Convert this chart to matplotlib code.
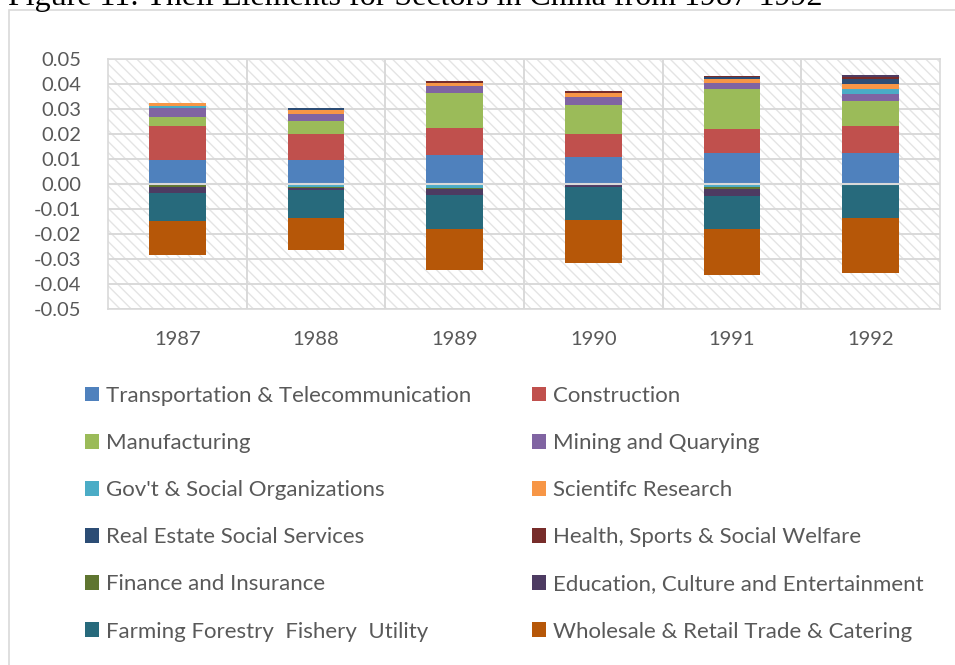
import numpy as np
import matplotlib.pyplot as plt
from matplotlib.patches import Rectangle, Patch

# data
years = ['1987', '1988', '1989', '1990', '1991', '1992']
sectors = ['Transportation & Telecommunication', 'Construction', 'Manufacturing',
           'Mining and Quarying', "Gov't & Social Organizations", 'Scientifc Research',
           'Real Estate Social Services', 'Health, Sports & Social Welfare',
           'Finance and Insurance', 'Education, Culture and Entertainment',
           'Farming Forestry  Fishery  Utility', 'Wholesale & Retail Trade & Catering']
transport = [0.0095, 0.0095, 0.0115, 0.0109, 0.0123, 0.0125]
construction = [0.0136, 0.0105, 0.0108, 0.0092, 0.0099, 0.0107]
manufacturing = [0.0039, 0.0053, 0.0143, 0.0117, 0.0157, 0.0101]
mining = [0.0033, 0.0029, 0.0028, 0.0029, 0.0027, 0.0028]
govt = [0.0008, -0.0010, -0.0016, 0.0000, -0.0013, 0.0019]
scientific = [0.0015, 0.0015, 0.0012, 0.0016, 0.0013, 0.0021]
real_estate = [0.0000, 0.0008, 0.0000, 0.0000, 0.0008, 0.0019]
health = [0.0000, 0.0000, 0.0005, 0.0011, 0.0005, 0.0007]
finance = [-0.0010, -0.0005, -0.0005, -0.0005, -0.0007, 0.0003]
education = [-0.0027, -0.0007, -0.0023, -0.0008, -0.0029, 0.0005]
farming = [-0.0112, -0.0113, -0.0135, -0.0132, -0.0131, -0.0137]
wholesale = [-0.0135, -0.0128, -0.0164, -0.0172, -0.0184, -0.0220]

series = [transport, construction, manufacturing, mining, govt, scientific,
          real_estate, health, finance, education, farming, wholesale]
colors = ['#4F81BD', '#C0504D', '#9BBB59', '#8064A2', '#4BACC6', '#F79646',
          '#2C4D75', '#772C2A', '#5F7530', '#4D3B62', '#276A7C', '#B65708']

grey = '#595959'
grid_c = '#D9D9D9'

fig = plt.figure(figsize=(9.55, 6.65), dpi=100)
ax = fig.add_axes([108 / 955, 1 - 309 / 665, 832 / 955, 250 / 665])

# hatched plot area background
ax.add_patch(Rectangle((0, 0), 1, 1, transform=ax.transAxes, facecolor='white',
                       edgecolor='#E4E4E4', hatch='\\\\\\', linewidth=0, zorder=0))

x = np.arange(len(years))
pos_bottom = np.zeros(len(years))
neg_bottom = np.zeros(len(years))
for vals, col in zip(series, colors):
    v = np.array(vals)
    bottom = np.where(v >= 0, pos_bottom, neg_bottom)
    ax.bar(x, v, 0.41, bottom=bottom, color=col, linewidth=0, zorder=2)
    pos_bottom += np.clip(v, 0, None)
    neg_bottom += np.clip(v, None, 0)

ax.axhline(0, color=grid_c, lw=1.5, zorder=3)

ax.set_xlim(-0.5, len(years) - 0.5)
ax.set_ylim(-0.05, 0.05)
ax.set_yticks(np.arange(-0.05, 0.0501, 0.01))
ax.set_yticklabels([f'{t:.2f}' for t in np.arange(-0.05, 0.0501, 0.01)])
ax.set_xticks(x)
ax.set_xticklabels(years)
ax.set_xticks(np.arange(0.5, len(years) - 0.5), minor=True)
ax.tick_params(axis='both', which='both', length=0, colors=grey, labelsize=14.5)
ax.tick_params(axis='x', pad=16)
ax.tick_params(axis='y', pad=19)
ax.grid(axis='y', which='major', color=grid_c, lw=1.4, zorder=1)
ax.grid(axis='x', which='minor', color=grid_c, lw=1.4, zorder=1)
ax.set_axisbelow(True)
for sp in ax.spines.values():
    sp.set_color(grid_c)
    sp.set_linewidth(1.2)
for lab in ax.get_xticklabels() + ax.get_yticklabels():
    lab.set_fontfamily('Lato')

# chart border and clipped title
fig.add_artist(Rectangle((9 / 955, -0.1), 1.0, 1.1 - 10 / 665, transform=fig.transFigure,
                         fill=False, edgecolor=grid_c, linewidth=1.2))
fig.text(8 / 955, 1 - 5 / 665, 'Figure 11: Theil Elements for Sectors in China from 1987-1992',
         fontfamily='Liberation Serif', fontsize=23, va='baseline', ha='left', color='black')

# two-column legend, filled row by row
handles = [Patch(facecolor=c, edgecolor='none') for c in colors]
for col, x0 in enumerate([85, 532]):
    idx = list(range(col, len(sectors), 2))
    leg = fig.legend([handles[i] for i in idx], [sectors[i] for i in idx],
                     loc='upper left', bbox_to_anchor=(x0 / 955, 1 - 386 / 665),
                     frameon=False, labelcolor=grey,
                     handlelength=0.63, handleheight=0.63, handletextpad=0.3,
                     labelspacing=1.22, borderpad=0, borderaxespad=0,
                     prop={'family': 'Lato', 'size': 16})

fig.savefig('out.png', dpi=100)
